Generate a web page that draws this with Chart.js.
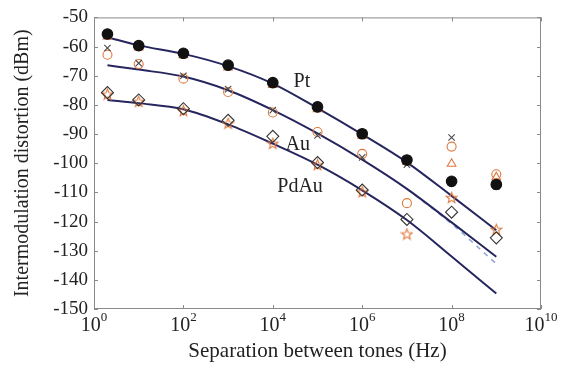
<!DOCTYPE html>
<html><head><meta charset="utf-8">
<script src="https://cdn.jsdelivr.net/npm/chart.js@4"></script>
<style>html,body{margin:0;padding:0;background:#fff}#wrap{width:581px;height:377px}</style>
</head><body><div id="wrap"><canvas id="c" width="581" height="377"></canvas></div>
<script>
// ---- data ----
const freqs = [2, 10, 100, 1e3, 1e4, 1e5, 1e6, 1e7, 1e8, 1e9];
const ptFilled   = [-55.7, -59.7, -62.3, -66.4, -72.4, -80.7, -89.9, -98.9, -106.2, -107.3];
const ptTriangle = [-56.5, -60.3, -63.0, -67.2, -73.2, -81.5, -90.6, -99.5, -100.2, -104.8];
const auCross    = [-60.5, -65.7, -70.0, -74.6, -81.8, -90.5, -98.0, -100.5, -91.2, -108.0];
const auCircle   = [-62.8, -66.0, -71.0, -75.6, -82.6, -89.3, -96.8, -113.7, -94.3, -103.8];
const pdauDiamond= [-75.8, -78.3, -81.3, -85.3, -90.8, -99.8, -109.2, -119.3, -116.8, -125.6];
const pdauStar   = [-76.3, -78.8, -82.0, -86.3, -93.2, -100.5, -109.8, -124.3, -111.8, -122.7];
const fitFreqs = [2, 10, 100, 1e3, 1e4, 1e5, 1e6, 1e7, 1e8, 1e9];
const ptFit   = [-56.8, -59.6, -62.5, -66.7, -72.7, -81.1, -90.1, -99.7, -111.2, -123.0];
const auFit   = [-66.4, -67.9, -70.3, -75.0, -81.8, -89.8, -98.8, -108.8, -120.3, -132.1];
const pdauFit = [-78.3, -79.4, -81.5, -86.7, -93.3, -100.5, -109.3, -119.5, -132.0, -144.7];
const dashFreqs = [1e7, 1e8, 1e9];
const auFitAlt  = [-108.8, -120.8, -134.5];
const xTickValues = [1, 1e2, 1e4, 1e6, 1e8, 1e10];
const xTickBase = '10';
const xTickExponents = ['0', '2', '4', '6', '8', '10'];
const curveLabels = ['Pt', 'Au', 'PdAu'];
const curveLabelAt = [[Math.pow(10,4.65), -72.0], [Math.pow(10,4.56), -93.6], [Math.pow(10,4.61), -108.1]];

const pts = (xs, ys) => xs.map((x, i) => ({x, y: ys[i]}));

// star marker
function makeStar(color){
  const c = document.createElement('canvas'); c.width = 13; c.height = 13;
  const g = c.getContext('2d'); g.strokeStyle = color; g.lineWidth = 1.1;
  g.beginPath();
  for (let i = 0; i < 10; i++) {
    const r = i % 2 ? 2.4 : 5.6, a = -Math.PI/2 + i*Math.PI/5;
    const px = 6.5 + r*Math.cos(a), py = 7 + r*Math.sin(a);
    i ? g.lineTo(px, py) : g.moveTo(px, py);
  }
  g.closePath(); g.stroke();
  return c;
}
const orange = '#e0773a';
const navy = '#26265e';

const frame = {
  id: 'frame',
  afterDatasetsDraw(chart){
    const {ctx, chartArea: a, scales} = chart;
    ctx.save();
    ctx.strokeStyle = '#8a8a8a'; ctx.lineWidth = 1;
    ctx.strokeRect(a.left + 0.5, a.top + 0.5, a.right - a.left - 1, a.bottom - a.top - 1);
    ctx.beginPath();
    const L = 4;
    xTickValues.forEach(v => {
      const px = Math.round(scales.x.getPixelForValue(v)) + 0.5;
      ctx.moveTo(px, a.bottom); ctx.lineTo(px, a.bottom - L);
      ctx.moveTo(px, a.top); ctx.lineTo(px, a.top + L);
    });
    scales.y.ticks.forEach(t => {
      const py = Math.round(scales.y.getPixelForValue(t.value)) + 0.5;
      ctx.moveTo(a.left, py); ctx.lineTo(a.left + L, py);
      ctx.moveTo(a.right, py); ctx.lineTo(a.right - L, py);
    });
    ctx.stroke();
    // x tick labels with superscript exponents
    ctx.fillStyle = '#222'; ctx.textBaseline = 'alphabetic'; ctx.textAlign = 'left';
    xTickValues.forEach((v, i) => {
      const px = scales.x.getPixelForValue(v);
      ctx.font = '20px "Liberation Serif"';
      const wb = ctx.measureText(xTickBase).width;
      ctx.font = '13px "Liberation Serif"';
      const we = ctx.measureText(xTickExponents[i]).width;
      const x0 = px - (wb + we) / 2;
      ctx.font = '20px "Liberation Serif"';
      ctx.fillText(xTickBase, x0, a.bottom + 22);
      ctx.font = '13px "Liberation Serif"';
      ctx.fillText(xTickExponents[i], x0 + wb, a.bottom + 12);
    });
    ctx.font = '20px "Liberation Serif"';
    ctx.textAlign = 'center'; ctx.textBaseline = 'middle';
    curveLabels.forEach((t, i) => {
      ctx.fillText(t, scales.x.getPixelForValue(curveLabelAt[i][0]), scales.y.getPixelForValue(curveLabelAt[i][1]));
    });
    ctx.restore();
  }
};

const lineDs = (xs, ys, extra) => Object.assign({
  type: 'line', data: pts(xs, ys), borderColor: navy, borderWidth: 2,
  pointRadius: 0, cubicInterpolationMode: 'monotone', fill: false, order: 2
}, extra || {});
const scatterDs = (ys, style) => Object.assign({
  type: 'scatter', data: pts(freqs, ys), order: 1, pointBorderWidth: 1.1
}, style);

new Chart(document.getElementById('c'), {
  data: {
    datasets: [
      lineDs(fitFreqs, ptFit),
      lineDs(fitFreqs, auFit),
      lineDs(fitFreqs, pdauFit),
      lineDs(dashFreqs, auFitAlt, {borderColor: '#8ea6d6', borderWidth: 1.5, borderDash: [5, 5]}),
      // earlier scatter datasets are painted on top
      scatterDs(ptFilled, {pointStyle: 'circle', pointRadius: 5.3, pointBackgroundColor: '#111', pointBorderColor: '#111'}),
      scatterDs(pdauDiamond, {pointStyle: 'rectRot', pointRadius: 6, pointBackgroundColor: 'rgba(0,0,0,0)', pointBorderColor: '#333'}),
      scatterDs(pdauStar, {pointStyle: makeStar(orange), pointRadius: 6}),
      scatterDs(auCross, {pointStyle: 'crossRot', pointRadius: 4.5, pointBorderColor: '#4a4a4a'}),
      scatterDs(auCircle, {pointStyle: 'circle', pointRadius: 4.5, pointBackgroundColor: 'rgba(0,0,0,0)', pointBorderColor: orange}),
      scatterDs(ptTriangle, {pointStyle: 'triangle', pointRadius: 5, pointBackgroundColor: 'rgba(0,0,0,0)', pointBorderColor: orange})
    ]
  },
  options: {
    responsive: false, animation: false, devicePixelRatio: 1,
    layout: {padding: {left: 0, right: 40, top: 13, bottom: 0}},
    plugins: {legend: {display: false}, tooltip: {enabled: false}},
    scales: {
      x: {
        type: 'logarithmic', min: 1, max: 1e10,
        afterBuildTicks: s => { s.ticks = xTickValues.map(v => ({value: v})); },
        afterFit: s => { s.height = 68; },
        grid: {display: false, drawTicks: false}, border: {display: false},
        ticks: {padding: 3, maxRotation: 0, autoSkip: false, callback: () => ''},
        title: {display: true, text: 'Separation between tones (Hz)', color: '#222',
          font: {family: 'Liberation Serif', size: 21}, padding: {top: 0, bottom: 13}}
      },
      y: {
        type: 'linear', min: -150, max: -50,
        afterFit: s => { s.width = 94; },
        grid: {display: false, drawTicks: false}, border: {display: false},
        ticks: {stepSize: 10, padding: 6, color: '#222', font: {family: 'Liberation Serif', size: 19}},
        title: {display: true, text: 'Intermodulation distortion (dBm)', color: '#222',
          font: {family: 'Liberation Serif', size: 20}, padding: {top: 11, bottom: 0}}
      }
    }
  },
  plugins: [frame]
});
</script></body></html>
